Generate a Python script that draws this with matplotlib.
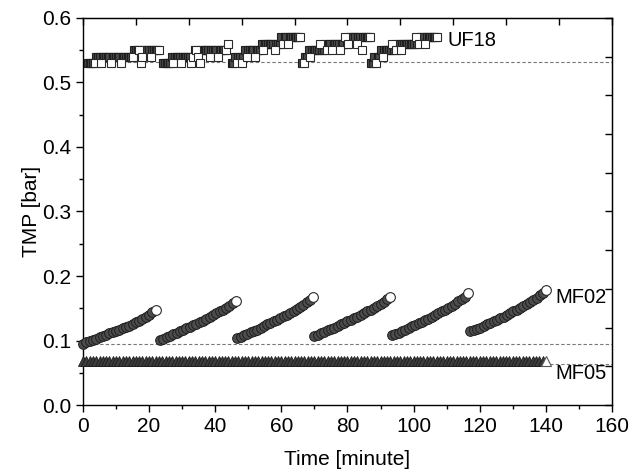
import numpy as np
import matplotlib
matplotlib.use('Agg')
import matplotlib.pyplot as plt

plt.rcParams['font.family'] = ['Liberation Sans', 'DejaVu Sans']
plt.rcParams['font.size'] = 15

# UF18: TMP level (in 0.01 bar) logged every 0.5 min, one list per cycle
uf18_step = 0.5
uf18_start = [1.5, 24.3, 45.0, 66.3, 87.1]
uf18_levels = [
    [53, 53, 53, 53, 53, 54, 54, 54, 53, 54, 54, 54, 54, 54, 53, 54, 54, 54, 54, 54, 53, 54,
     54, 54, 54, 54, 54, 54, 55, 55, 55, 55, 53, 54, 55, 55, 55, 55, 54, 55, 55, 55, 55, 55],
    [53, 53, 53, 53, 53, 54, 53, 54, 54, 54, 54, 53, 54, 54, 54, 54, 54, 53, 54, 55,
     55, 54, 53, 55, 55, 55, 55, 55, 54, 55, 55, 55, 55, 54, 55, 55, 55, 55, 55, 56],
    [53, 53, 54, 53, 54, 54, 53, 54, 55, 54, 55, 55, 55, 55, 54, 55, 55, 55, 56, 55, 56,
     56, 56, 56, 56, 56, 55, 56, 56, 56, 57, 56, 57, 57, 56, 57, 57, 57, 57, 57, 57, 57],
    [53, 53, 54, 54, 55, 54, 55, 55, 55, 55, 55, 56, 55, 55, 56, 55, 56, 56, 55, 56, 56,
     56, 56, 55, 56, 56, 57, 56, 56, 57, 57, 57, 57, 56, 57, 57, 55, 57, 57, 57, 57, 57],
    [53, 53, 54, 53, 54, 54, 55, 54, 55, 55, 55, 55, 55, 56, 55, 55, 56, 56, 55, 56, 56,
     56, 56, 56, 56, 56, 56, 57, 56, 56, 57, 57, 57, 56, 57, 57, 57, 57, 57, 57, 57],
]

# MF02: TMP [bar] logged every 1 min, one list per cycle
mf02_step = 1.0
mf02_start = [0.0, 23.3, 46.7, 70.0, 93.5, 117.2]
mf02_tmp = [
    [0.095, 0.097, 0.099, 0.101, 0.103, 0.105, 0.107, 0.109, 0.111, 0.113, 0.115, 0.117,
     0.119, 0.121, 0.123, 0.126, 0.128, 0.131, 0.134, 0.137, 0.140, 0.144, 0.148],
    [0.101, 0.103, 0.105, 0.107, 0.110, 0.112, 0.114, 0.117, 0.119, 0.121, 0.124, 0.126,
     0.129, 0.131, 0.134, 0.136, 0.139, 0.142, 0.145, 0.148, 0.151, 0.154, 0.158, 0.162],
    [0.104, 0.106, 0.108, 0.110, 0.113, 0.115, 0.117, 0.120, 0.122, 0.125, 0.127, 0.130,
     0.132, 0.135, 0.138, 0.140, 0.143, 0.146, 0.149, 0.152, 0.155, 0.159, 0.163, 0.167],
    [0.107, 0.109, 0.111, 0.113, 0.116, 0.118, 0.120, 0.123, 0.125, 0.127, 0.130, 0.132,
     0.135, 0.137, 0.140, 0.142, 0.145, 0.148, 0.151, 0.154, 0.157, 0.160, 0.164, 0.168],
    [0.108, 0.110, 0.112, 0.115, 0.117, 0.119, 0.122, 0.124, 0.127, 0.129, 0.132, 0.134,
     0.137, 0.140, 0.142, 0.145, 0.148, 0.151, 0.154, 0.157, 0.161, 0.164, 0.168, 0.173],
    [0.114, 0.116, 0.118, 0.120, 0.123, 0.125, 0.127, 0.130, 0.132, 0.135, 0.137, 0.140,
     0.143, 0.145, 0.148, 0.151, 0.154, 0.157, 0.160, 0.163, 0.166, 0.170, 0.174, 0.179],
]

# MF05: TMP [bar] logged every 1 min (flat over the whole run, 0-140 min)
mf05_step = 1.0
mf05_start = 0.0
mf05_tmp = [
    0.068, 0.068, 0.068, 0.068, 0.068, 0.068, 0.068, 0.068, 0.068, 0.068, 0.068, 0.068,
    0.068, 0.068, 0.068, 0.068, 0.068, 0.068, 0.068, 0.068, 0.068, 0.068, 0.068, 0.068,
    0.068, 0.068, 0.068, 0.068, 0.068, 0.068, 0.068, 0.068, 0.068, 0.068, 0.068, 0.068,
    0.068, 0.068, 0.068, 0.068, 0.068, 0.068, 0.068, 0.068, 0.068, 0.068, 0.068, 0.068,
    0.068, 0.068, 0.068, 0.068, 0.068, 0.068, 0.068, 0.068, 0.068, 0.068, 0.068, 0.068,
    0.068, 0.068, 0.068, 0.068, 0.068, 0.068, 0.068, 0.068, 0.068, 0.068, 0.068, 0.068,
    0.068, 0.068, 0.068, 0.068, 0.068, 0.068, 0.068, 0.068, 0.068, 0.068, 0.068, 0.068,
    0.068, 0.068, 0.068, 0.068, 0.068, 0.068, 0.068, 0.068, 0.068, 0.068, 0.068, 0.068,
    0.068, 0.068, 0.068, 0.068, 0.068, 0.068, 0.068, 0.068, 0.068, 0.068, 0.068, 0.068,
    0.068, 0.068, 0.068, 0.068, 0.068, 0.068, 0.068, 0.068, 0.068, 0.068, 0.068, 0.068,
    0.068, 0.068, 0.068, 0.068, 0.068, 0.068, 0.068, 0.068, 0.068, 0.068, 0.068, 0.068,
    0.068, 0.068, 0.068, 0.068, 0.068, 0.068, 0.068, 0.068, 0.068,
]

# initial TMP reference levels (dashed)
baselines = [0.532, 0.094, 0.064]
labels = [('UF18', 110.4, 0.565), ('MF02', 142.8, 0.167), ('MF05', 142.8, 0.049)]

fig = plt.figure(figsize=(6.31, 4.71), dpi=100)
ax = fig.add_axes([0.1315, 0.140, 0.8383, 0.822])

for b in baselines:
    ax.axhline(b, color='#777777', lw=0.8, ls=(0, (3, 2)), zorder=1)

# UF18 open squares; a square covered by the next ones at the same level looks dark
for t0, lev in zip(uf18_start, uf18_levels):
    t = t0 + uf18_step * np.arange(len(lev))
    y = np.array(lev) / 100.0
    covered = np.array([lev[i] in lev[i + 1:i + 3] for i in range(len(lev))])
    ax.plot(t[covered], y[covered], ls='none', marker='s', ms=5.8, mfc='#4a4a4a',
            mec='#1e1e1e', mew=0.8, zorder=3, clip_on=False)
    ax.plot(t[~covered], y[~covered], ls='none', marker='s', ms=5.8, mfc='white',
            mec='#2a2a2a', mew=0.8, zorder=4, clip_on=False)

# MF02 circles
for t0, vals in zip(mf02_start, mf02_tmp):
    t = t0 + mf02_step * np.arange(len(vals))
    ax.plot(t[:-1], vals[:-1], ls='none', marker='o', ms=7, mfc='#4d4d4d', mec='#1e1e1e',
            mew=0.7, zorder=3, clip_on=False)
    ax.plot(t[-1], vals[-1], ls='none', marker='o', ms=7, mfc='white', mec='#2a2a2a',
            mew=0.8, zorder=4, clip_on=False)

# MF05 triangles
t5 = mf05_start + mf05_step * np.arange(len(mf05_tmp))
ax.plot(t5[:-1], mf05_tmp[:-1], ls='none', marker='^', ms=7.5, mfc='#3d3d3d', mec='#1e1e1e',
        mew=0.6, zorder=3, clip_on=False)
ax.plot(t5[-1], mf05_tmp[-1], ls='none', marker='^', ms=7.5, mfc='white', mec='#555555',
        mew=0.8, zorder=4, clip_on=False)

for name, x, y in labels:
    ax.text(x, y, name, ha='left', va='center', fontsize=14.5)

ax.set_xlim(0, 160)
ax.set_ylim(0, 0.6)
ax.set_xticks(np.arange(0, 161, 20))
ax.set_xticks(np.arange(10, 160, 20), minor=True)
ax.set_yticks(np.arange(0, 0.61, 0.1))
ax.set_yticks(np.arange(0.05, 0.6, 0.1), minor=True)
ax.yaxis.set_major_formatter(matplotlib.ticker.FormatStrFormatter('%.1f'))
ax.tick_params(which='major', direction='out', length=5, width=1, labelsize=15)
ax.tick_params(which='minor', direction='out', length=3, width=1)
ax.set_xlabel('Time [minute]', fontsize=15, labelpad=10)
ax.set_ylabel('TMP [bar]', fontsize=15, labelpad=1)
for sp in ax.spines.values():
    sp.set_linewidth(1.0)

# unlabeled inward ticks on the top and right frame
top = ax.secondary_xaxis('top', functions=(lambda x: x / 160.0, lambda f: f * 160.0))
top.set_xticks(np.linspace(0, 1, 11))
top.tick_params(direction='in', length=5, width=1, labeltop=False)
right = ax.secondary_yaxis('right', functions=(lambda y: y / 0.6, lambda f: f * 0.6))
right.set_yticks(np.linspace(0, 1, 11))
right.tick_params(direction='in', length=5, width=1, labelright=False)

fig.savefig('out.png', dpi=100)
